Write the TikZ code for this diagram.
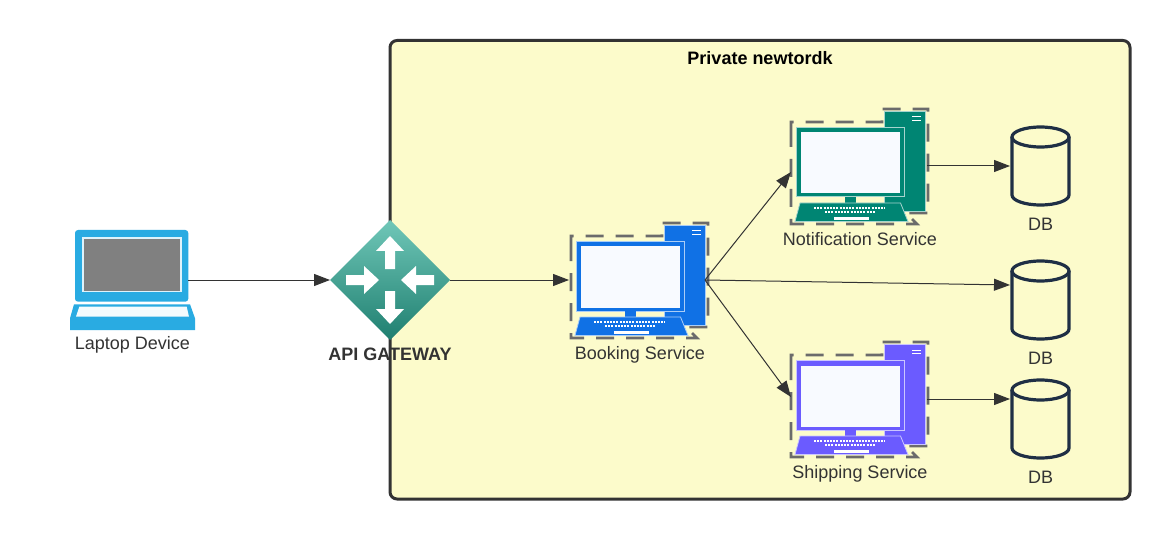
\documentclass[tikz,border=0pt]{standalone}
\usepackage{fontspec}
\setmainfont{Liberation Sans}
\usepackage{tikz}
\usetikzlibrary{shapes.geometric, arrows.meta, positioning}

\definecolor{netyellow}{HTML}{FCFBCB}
\definecolor{inkgray}{HTML}{333333}
\definecolor{dbnavy}{HTML}{1F2F45}
\definecolor{laptopblue}{HTML}{29ABE2}
\definecolor{bookblue}{HTML}{1071E5}
\definecolor{notifyteal}{HTML}{008573}
\definecolor{shipviolet}{HTML}{6B5BFF}
\definecolor{screenwhite}{HTML}{F8FAFF}
\definecolor{gatetop}{HTML}{70C7B8}
\definecolor{gatebottom}{HTML}{1F7F70}

\tikzset{
    label text/.style={font=\fontsize{18}{20}\selectfont, text=inkgray, inner sep=0pt},
    bold text/.style={font=\fontsize{18}{20}\selectfont\bfseries, text=inkgray, inner sep=0pt},
    link/.style={draw=inkgray, line width=1pt, -{Stealth[length=16pt, width=12pt, inset=0pt]}},
    iconbox/.style={minimum width=136pt, minimum height=116pt, inner sep=0pt, outer sep=0pt},
    dbbox/.style={minimum width=61pt, minimum height=78pt, inner sep=0pt, outer sep=0pt},
    pics/dbcan/.style={code={
        \draw[draw=dbnavy, line width=3.2pt] (-28.5,-29) -- (-28.5,29) arc (180:360:28.5pt and 10pt) -- (28.5,-29);
        \draw[draw=dbnavy, line width=3.2pt] (0,-29) circle [x radius=28.5pt, y radius=10pt];
    }},
    pics/computer/.style={code={
        \draw[line width=2.6pt, draw=black!58, dash pattern=on 18pt off 12pt]
            (-69,-37) -- (-69,58) -- (57,58) -- (46,47) -- (68,47) -- (68,-57) -- (22,-57) -- (22,-44) -- (-69,-44) -- cycle;
        \fill[#1, draw=#1!35!white, line width=0.8pt] (24,-54.5) rectangle (65,45);
        \fill[#1, draw=#1!35!white, line width=1pt] (-64,-38.5) rectangle (44,31);
        \fill[screenwhite] (-59,-33.5) rectangle (39.5,27.5);
        \fill[#1] (-15,31) rectangle (-4,37);
        \fill[#1, draw=#1!35!white, line width=0.8pt] (-60,37) -- (40.5,37) -- (48,55.5) -- (-65,55.5) -- cycle;
        \draw[white, line width=2pt, dash pattern=on 2pt off 1.2pt] (-46,41.7) -- (25,41.7);
        \draw[white, line width=2pt, dash pattern=on 2pt off 1.2pt] (-35,45.7) -- (15,45.7);
        \fill[white] (-26,50.7) rectangle (9,54);
        \draw[white, line width=1pt] (52,-49) -- (60.7,-49);
        \draw[white, line width=1pt] (52,-45.4) -- (60.7,-45.4);
    }}
}

\begin{document}
\begin{tikzpicture}[x=1pt, y=-1pt, >=Stealth]
    \useasboundingbox (0,0) rectangle (1170,540);

    \draw[rounded corners=7pt, line width=3pt, draw=inkgray, fill=netyellow] (390,40.5) rectangle (1130,499);
    \node[bold text, text=black] (nettitle) at (760,58) {Private newtordk};

    % laptop
    \node[minimum width=118pt, minimum height=72pt, inner sep=0pt, outer sep=0pt] (laptop) at (129,280) {};
    \fill[laptopblue, rounded corners=3pt] (75,230) rectangle (188.3,301.7);
    \fill[white!85!laptopblue] (82.3,236.7) rectangle (181.7,292.3);
    \fill[black!50] (84,238.7) rectangle (180.3,290.7);
    \fill[laptopblue] (74,304.3) -- (190,304.3) -- (195,318.3) -- (195,330) -- (70,330) -- (70,318.3) -- cycle;
    \fill[white!95!laptopblue] (79.3,306.7) -- (186.7,306.7) -- (189,316.7) -- (76,316.7) -- cycle;
    \node[label text] (laptoplabel) at (132.5,345) {Laptop Device};

    % gateway
    \node[diamond, aspect=1, minimum size=120pt, inner sep=0pt, outer sep=0pt,
        top color=gatetop, bottom color=gatebottom] (gateway) at (390,280) {};
    \foreach \a in {0,180} {
        \fill[white, shift={(390,280)}, rotate=\a] (-5,-11) -- (-5,-29) -- (-14,-29) -- (0,-44) -- (14,-29) -- (5,-29) -- (5,-11) -- cycle;
    }
    \foreach \a in {90,270} {
        \fill[white, shift={(390,280)}, rotate=\a] (-5,-44) -- (-5,-26) -- (-14,-26) -- (0,-11) -- (14,-26) -- (5,-26) -- (5,-44) -- cycle;
    }
    \node[bold text] (gatewaylabel) at (390,354) {API GATEWAY};

    % services
    \node[iconbox] (booking) at (637,280) {};
    \pic at (640,280) {computer=bookblue};
    \node[label text] (bookinglabel) at (640,354.5) {Booking Service};

    \node[iconbox] (notification) at (859,166) {};
    \pic at (860,166) {computer=notifyteal};
    \node[label text] (notificationlabel) at (860,239) {Notification Service};

    \node[iconbox] (shipping) at (859,399) {};
    \pic at (860,399) {computer=shipviolet};
    \node[label text] (shippinglabel) at (860,473.5) {Shipping Service};

    % databases
    \node[dbbox] (dbone) at (1040.5,166) {};
    \pic at (1040.5,166) {dbcan};
    \node[label text] (dbonelabel) at (1040.5,224) {DB};
    \node[dbbox] (dbtwo) at (1040.5,300) {};
    \pic at (1040.5,300) {dbcan};
    \node[label text] (dbtwolabel) at (1040.5,358) {DB};
    \node[dbbox] (dbthree) at (1040.5,419) {};
    \pic at (1040.5,419) {dbcan};
    \node[label text] (dbthreelabel) at (1040.5,477) {DB};
    \coordinate (dbtwoin) at (1010,285);
    \coordinate (dbthreein) at (1010,399);

    \draw[link] (laptop) -- (gateway);
    \draw[link] (gateway) -- (booking);
    \draw[link] (booking.east) -- ([yshift=-6pt]notification.west);
    \draw[link] (booking.east) -- (dbtwoin);
    \draw[link] (booking.east) -- ([yshift=2pt]shipping.west);
    \draw[link] (notification.east) -- (dbone.west);
    \draw[link] (shipping.east) -- (dbthreein);
\end{tikzpicture}
\end{document}
